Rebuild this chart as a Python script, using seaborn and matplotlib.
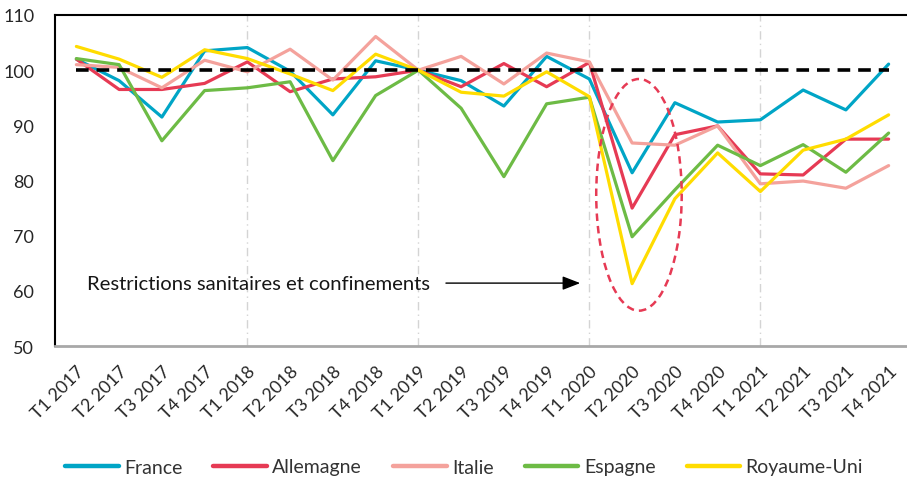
import matplotlib
matplotlib.use("Agg")
import matplotlib.pyplot as plt
from matplotlib.patches import Ellipse
import seaborn as sns
import pandas as pd

quarters = ["T1 2017", "T2 2017", "T3 2017", "T4 2017",
            "T1 2018", "T2 2018", "T3 2018", "T4 2018",
            "T1 2019", "T2 2019", "T3 2019", "T4 2019",
            "T1 2020", "T2 2020", "T3 2020", "T4 2020",
            "T1 2021", "T2 2021", "T3 2021", "T4 2021"]

france = [102.0, 98.1, 91.5, 103.5, 104.1, 99.8, 91.9, 101.7, 100.0, 98.1,
          93.5, 102.5, 98.4, 81.4, 94.1, 90.6, 91.0, 96.4, 92.8, 101.1]
allemagne = [102.0, 96.5, 96.5, 97.6, 101.5, 96.1, 98.4, 98.8, 100.0, 97.0,
             101.2, 97.0, 101.4, 75.0, 88.3, 89.9, 81.2, 81.0, 87.5, 87.5]
italie = [101.0, 100.5, 96.8, 101.8, 99.7, 103.8, 98.2, 106.1, 100.0, 102.5,
          97.5, 103.1, 101.5, 86.8, 86.4, 89.9, 79.4, 79.9, 78.6, 82.7]
espagne = [102.1, 101.0, 87.2, 96.3, 96.8, 97.9, 83.6, 95.4, 100.0, 93.1,
           80.7, 93.9, 95.1, 69.8, 78.3, 86.4, 82.7, 86.5, 81.5, 88.6]
royaume_uni = [104.3, 102.0, 98.7, 103.7, 102.1, 99.3, 96.3, 102.9, 100.0, 96.0,
               95.3, 99.7, 95.2, 61.3, 76.7, 85.0, 78.0, 85.5, 87.5, 91.9]
reference = [100.0] * len(quarters)

series_names = ["France", "Allemagne", "Italie", "Espagne", "Royaume-Uni"]
series_values = [france, allemagne, italie, espagne, royaume_uni]
colors = ["#00a5c6", "#e63a54", "#f4a29c", "#6dbb45", "#ffdc00"]
annotation = "Restrictions sanitaires et confinements"

rows = []
for name, vals in zip(series_names, series_values):
    for i, (q, v) in enumerate(zip(quarters, vals)):
        rows.append({"idx": i, "trimestre": q, "pays": name, "valeur": v})
df = pd.DataFrame(rows)
ref_df = pd.DataFrame({"idx": range(len(quarters)), "valeur": reference})

sns.set_theme(style="white")
plt.rcParams["font.family"] = ["Lato", "DejaVu Sans"]

fig = plt.figure(figsize=(9.07, 4.81), dpi=100)
ax = fig.add_axes([55 / 907, 1 - 347 / 481, (910 - 55) / 907, (347 - 16) / 481])

for q in [4, 8, 12, 16]:
    ax.axvline(q, color="#d4d4d4", lw=1.0, ls=(0, (6, 3, 1, 3)), zorder=0)

sns.lineplot(data=df, x="idx", y="valeur", hue="pays", hue_order=series_names,
             palette=colors, lw=2.3, ax=ax, legend=True, sort=False, zorder=3)
sns.lineplot(data=ref_df, x="idx", y="valeur", color="black", lw=2.6,
             ls=(0, (3.5, 2.2)), ax=ax, legend=False, zorder=4)

ax.add_patch(Ellipse((13.16, 77.4), width=2.0, height=42.0, fill=False,
                     edgecolor="#e63a54", lw=1.8, ls=(0, (3, 2)), zorder=5))

ax.annotate("", xy=(11.85, 61.4), xytext=(8.58, 61.4),
            arrowprops=dict(arrowstyle="-|>,head_length=0.9,head_width=0.35",
                            color="black", lw=1.0), zorder=6)
ax.text(0.26, 61.4, annotation, fontsize=14.6, color="#161616",
        va="center", ha="left", zorder=6)

ax.set_xlim(-0.5, 19.5)
ax.set_ylim(50, 110)
ax.set_yticks([50, 60, 70, 80, 90, 100, 110])
ax.set_xticks(range(len(quarters)))
ax.set_xticklabels(quarters, rotation=45, ha="right", rotation_mode="anchor")
ax.tick_params(axis="both", length=0, colors="#262626")
ax.tick_params(axis="y", pad=15, labelsize=13)
ax.tick_params(axis="x", pad=12, labelsize=12.8)
ax.set_xlabel("")
ax.set_ylabel("")

for s in ["left", "top"]:
    ax.spines[s].set_color("black")
    ax.spines[s].set_linewidth(1.5)
ax.spines["right"].set_visible(False)
ax.spines["bottom"].set_color("#a8a8a8")
ax.spines["bottom"].set_linewidth(2.0)

handles, labels = ax.get_legend_handles_labels()
ax.legend_.remove()
fig.legend(handles, labels, loc="center", bbox_to_anchor=(464 / 907, 1 - 468 / 481),
           ncol=5, frameon=False, fontsize=14, handlelength=2.75,
           columnspacing=1.6, handletextpad=0.28, labelcolor="#333333")
for h in fig.legends[0].legend_handles:
    h.set_linewidth(3.2)

fig.savefig("out.png", dpi=100)
